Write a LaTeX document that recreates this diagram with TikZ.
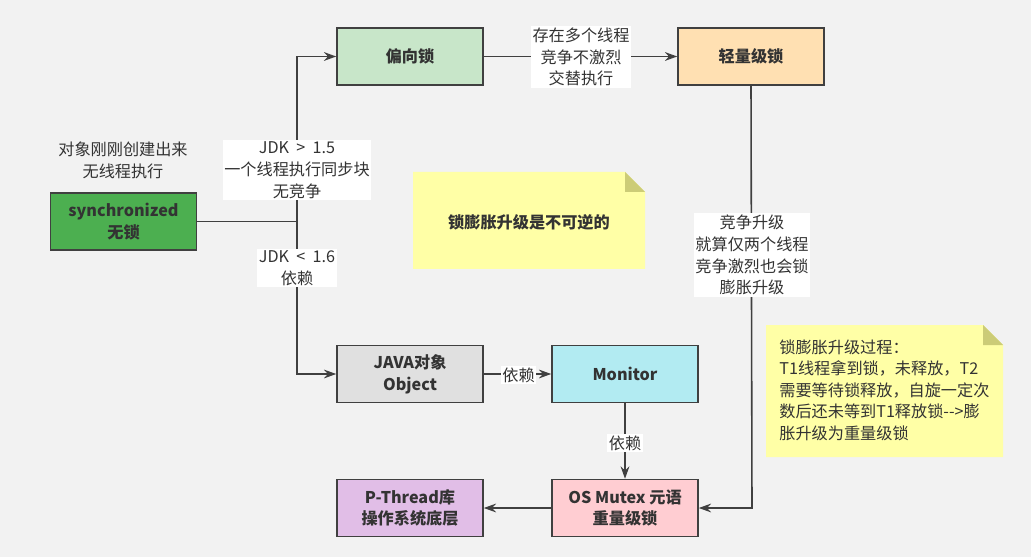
\documentclass[tikz,border=0pt]{standalone}
\usepackage{fontspec}
\setmainfont{Noto Sans CJK SC}
\usetikzlibrary{arrows.meta}
\tikzset{%%
  >={Stealth[length=7pt,width=5pt]},
  box/.style={draw=lineGray, line width=0.9pt, minimum width=2.92cm, minimum height=1.14cm,
    align=center, font=\fontsize{9.2}{12.4}\selectfont\bfseries, text=txtGray},
  lbl/.style={fill=white, inner sep=1pt, align=center, font=\fontsize{9.2}{12.4}\selectfont, text=txtGray},
  link/.style={draw=lineGray, line width=0.9pt}
  }
\definecolor{bgGray}{RGB}{242, 242, 242}
\definecolor{lineGray}{RGB}{64, 64, 64}
\definecolor{txtGray}{RGB}{51, 51, 51}
\definecolor{myGreen}{RGB}{76, 175, 80}
\definecolor{lightGreen}{RGB}{200, 230, 201}
\definecolor{myOrange}{RGB}{255, 224, 178}
\definecolor{myGray}{RGB}{224, 224, 224}
\definecolor{myCyan}{RGB}{178, 235, 242}
\definecolor{myPink}{RGB}{255, 205, 210}
\definecolor{myPurple}{RGB}{225, 190, 231}
\definecolor{noteYellow}{RGB}{255, 255, 166}
\definecolor{noteFold}{RGB}{204, 204, 119}

\begin{document}
\begin{tikzpicture}[x=0.02cm, y=-0.02cm]
  \fill[bgGray] (0,0) rectangle (1031,557);
  \useasboundingbox (0,0) rectangle (1031,557);
  % notes
  \fill[noteYellow] (413,172)--(625,172)--(645,192)--(645,269)--(413,269)--cycle;
  \fill[noteFold] (625,172)--(625,192)--(645,192)--cycle;
  \node[font=\fontsize{9.2}{12.4}\selectfont\bfseries, text=txtGray] (irrev) at (529,222) {锁膨胀升级是不可逆的};
  \fill[noteYellow] (766,325)--(983,325)--(1003,345)--(1003,457)--(766,457)--cycle;
  \fill[noteFold] (983,325)--(983,345)--(1003,345)--cycle;
  \node[anchor=north west, align=left, inner sep=0pt, font=\fontsize{9.2}{12.3}\selectfont, text=txtGray] (process) at (779,339)
    {锁膨胀升级过程：\\T1线程拿到锁，未释放，T2\\需要等待锁释放，自旋一定次\\数后还未等到T1释放锁{-}{-}>膨\\胀升级为重量级锁};
  % boxes
  \node[box, fill=myGreen] (sync) at (123.5,221.5) {synchronized\\无锁};
  \node[box, fill=lightGreen] (biased) at (410,56.5) {偏向锁};
  \node[box, fill=myOrange] (light) at (751,56.5) {轻量级锁};
  \node[box, fill=myGray] (javaobj) at (410,374) {JAVA对象\\Object};
  \node[box, fill=myCyan] (monitor) at (625,374) {Monitor};
  \node[box, fill=myPink] (mutex) at (625,508) {OS Mutex 元语\\重量级锁};
  \node[box, fill=myPurple] (pthread) at (410,508) {P-Thread库\\操作系统底层};
  \node[align=center, font=\fontsize{9.2}{12.4}\selectfont, text=txtGray] (created) at (123,160) {对象刚刚创建出来\\无线程执行};
  % connectors
  \coordinate (trunk) at (297,221.5);
  \coordinate (bend) at (752,508);
  \draw[link, ->] (sync.east) -- (trunk) |- (biased.west);
  \draw[link, ->] (trunk) |- (javaobj.west);
  \draw[link, ->] (biased) -- (light);
  \draw[link, ->] (light.south) -- (bend) -- (mutex.east);
  \draw[link, ->] (javaobj) -- (monitor);
  \draw[link, ->] (monitor) -- (mutex);
  \draw[link, ->] (mutex) -- (pthread);
  % labels
  \node[lbl] (jdkUp) at (297,170) {JDK\ \ >\ \ 1.5\\一个线程执行同步块\\无竞争};
  \node[lbl] (jdkDown) at (297,268) {JDK\ \ <\ \ 1.6\\依赖};
  \node[lbl] (multi) at (581,57) {存在多个线程\\竞争不激烈\\交替执行};
  \node[lbl] (upgrade) at (752,255) {竞争升级\\就算仅两个线程\\竞争激烈也会锁\\膨胀升级};
  \node[lbl] (dep1) at (518.5,375) {依赖};
  \node[lbl] (dep2) at (625,443) {依赖};
\end{tikzpicture}
\end{document}
